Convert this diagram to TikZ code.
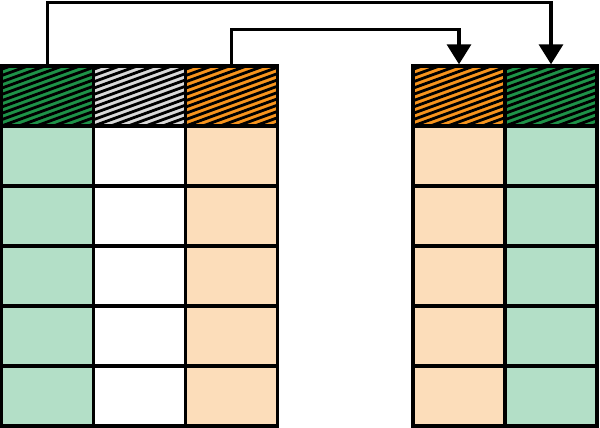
\documentclass[tikz,border=0pt]{standalone}
\usetikzlibrary{arrows.meta}
\definecolor{dkgreen}{HTML}{1E9248}
\definecolor{ltgreen}{HTML}{B3DFC7}
\definecolor{dkorange}{HTML}{F7941D}
\definecolor{ltorange}{HTML}{FCDDBA}
\definecolor{ltgray}{HTML}{D9D9D9}
\tikzset{
  cell/.style={draw,line width=3.4pt,minimum width=92pt,minimum height=60pt,inner sep=0pt},
  hatched/.style={cell,fill=#1,path picture={
    \foreach \k in {-8,...,11}
      \draw[line width=2.8pt] ([yshift=\k*6.3pt]path picture bounding box.south west) -- ++(20:110pt);}},
  link/.style={line width=3.4pt,-{Triangle[width=24pt,length=20pt]}}
}
\begin{document}
\begin{tikzpicture}[x=1pt,y=1pt]
\useasboundingbox (0,0) rectangle (600,428);
% left table
\node[hatched=dkgreen] (hl1) at (47.5,332) {};
\node[hatched=ltgray] (hl2) at (139.5,332) {};
\node[hatched=dkorange] (hl3) at (231.5,332) {};
\foreach \r in {1,...,5} {
  \node[cell,fill=ltgreen] (l1\r) at (47.5,332-60*\r) {};
  \node[cell,fill=white] (l2\r) at (139.5,332-60*\r) {};
  \node[cell,fill=ltorange] (l3\r) at (231.5,332-60*\r) {};
}
% right table
\node[hatched=dkorange] (hr1) at (459,332) {};
\node[hatched=dkgreen] (hr2) at (551,332) {};
\foreach \r in {1,...,5} {
  \node[cell,fill=ltorange] (r1\r) at (459,332-60*\r) {};
  \node[cell,fill=ltgreen] (r2\r) at (551,332-60*\r) {};
}
% moved columns
\draw[link] (hl1.north) -- ++(0,61.5) -| (hr2.north);
\draw[link] (hl3.north) -- ++(0,34.5) -| (hr1.north);
\end{tikzpicture}
\end{document}
